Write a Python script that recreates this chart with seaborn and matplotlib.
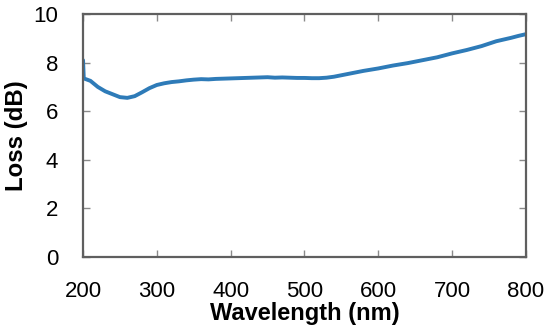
import pandas as pd
import seaborn as sns
import matplotlib.pyplot as plt

# Values (wavelength in nm, loss in dB)
wavelength = [200, 201, 210, 220, 230, 240, 250, 260, 270, 280, 290,
              300, 310, 320, 330, 340, 350, 360, 370, 380, 390,
              400, 410, 420, 430, 440, 450, 460, 470, 480, 490,
              500, 510, 520, 530, 540, 550, 560, 570, 580, 590,
              600, 610, 620, 630, 640, 650, 660, 670, 680, 690,
              700, 710, 720, 730, 740, 750, 760, 770, 780, 790, 800]
loss = [8.10, 7.35, 7.25, 7.00, 6.82, 6.70, 6.58, 6.55, 6.62, 6.78, 6.95,
        7.08, 7.15, 7.20, 7.23, 7.27, 7.30, 7.32, 7.31, 7.33, 7.34,
        7.35, 7.36, 7.37, 7.38, 7.39, 7.40, 7.38, 7.39, 7.38, 7.37,
        7.37, 7.36, 7.36, 7.38, 7.42, 7.48, 7.54, 7.60, 7.66, 7.71,
        7.76, 7.82, 7.88, 7.93, 7.98, 8.04, 8.10, 8.16, 8.22, 8.30,
        8.38, 8.45, 8.52, 8.60, 8.68, 8.78, 8.88, 8.95, 9.02, 9.10, 9.17]

df = pd.DataFrame({"Wavelength": wavelength, "Loss": loss})

sns.set_style("ticks")
plt.rcParams['font.family'] = ['Liberation Sans', 'DejaVu Sans']
plt.rcParams['text.color'] = 'black'
plt.rcParams['axes.labelcolor'] = 'black'

fig = plt.figure(figsize=(5.5, 3.34), dpi=100)
ax = fig.add_axes([0.151, 0.2305, 0.805, 0.7275])

sns.lineplot(data=df, x="Wavelength", y="Loss", color="#2e7bb8",
             linewidth=2.8, ax=ax)

ax.set_xlim(200, 800)
ax.set_ylim(0, 10)
ax.set_xticks(range(200, 801, 100))
ax.set_yticks(range(0, 11, 2))

grey = "#5f5f5f"
for s in ax.spines.values():
    s.set_visible(True)
    s.set_color(grey)
    s.set_linewidth(1.6)
ax.tick_params(direction="in", length=5, width=1, color="#8a8a8a",
               labelsize=16, labelcolor="black", top=True, right=True)
ax.tick_params(axis="y", pad=18)
ax.tick_params(axis="x", pad=17)

ax.set_xlabel("Wavelength (nm)", fontsize=17, fontweight="bold", labelpad=0)
ax.set_ylabel("Loss (dB)", fontsize=17.3, fontweight="bold", labelpad=4)

plt.savefig("out.png", dpi=100)
